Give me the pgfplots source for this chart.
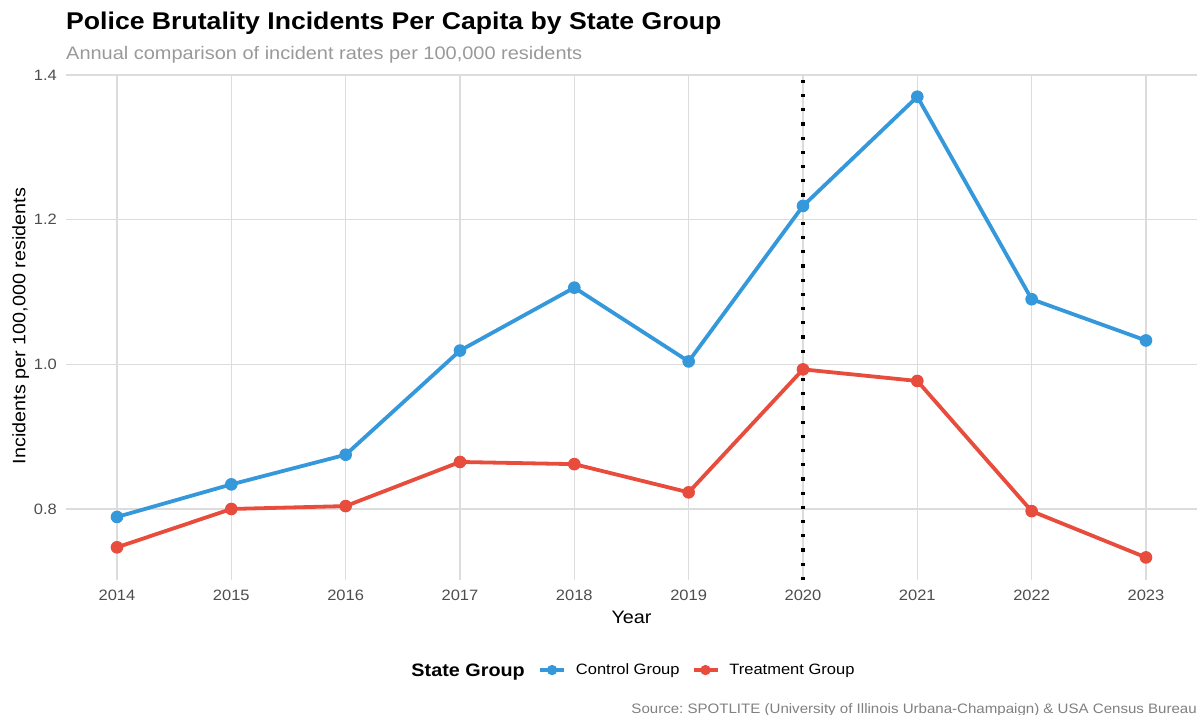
\documentclass[border=0pt]{standalone}
\usepackage{pgfplots}
\pgfplotsset{compat=1.18}
\usepackage{fontspec}
\setmainfont{Liberation Sans}[FakeStretch=1.1]
\frenchspacing
\definecolor{ctrl}{HTML}{3498DB}
\definecolor{trt}{HTML}{E74C3C}
\definecolor{gridc}{HTML}{DCDCDC}
\definecolor{ticklab}{HTML}{4D4D4D}
\definecolor{subt}{HTML}{999999}
\definecolor{capt}{HTML}{808080}

\pgfplotstableread{
year value
2014 0.789
2015 0.834
2016 0.875
2017 1.019
2018 1.106
2019 1.004
2020 1.219
2021 1.370
2022 1.090
2023 1.033
}\control
\pgfplotstableread{
year value
2014 0.747
2015 0.800
2016 0.804
2017 0.865
2018 0.862
2019 0.823
2020 0.993
2021 0.977
2022 0.797
2023 0.733
}\treatment

\begin{document}
\begin{tikzpicture}
\useasboundingbox (0bp,0bp) rectangle (1198bp,-715bp);
\node[anchor=base west, inner sep=0pt, font=\fontsize{24.2bp}{28bp}\selectfont\bfseries] at (66bp,-29.7bp) {Police Brutality Incidents Per Capita by State Group};
\node[anchor=base west, inner sep=0pt, text=subt, font=\fontsize{18.15bp}{22bp}\selectfont] at (66bp,-59.3bp) {Annual comparison of incident rates per 100,000 residents};
\begin{axis}[
  at={(66bp,-580bp)}, anchor=south west,
  scale only axis, width=1131bp, height=506bp,
  xmin=2013.554, xmax=2023.446, ymin=0.7018, ymax=1.4014,
  xtick={2014,2015,2016,2017,2018,2019,2020,2021,2022,2023},
  xticklabels={2014,2015,2016,2017,2018,2019,2020,2021,2022,2023},
  ytick={0.8,1.0,1.2,1.4},
  yticklabels={0.8,1.0,1.2,1.4},
  /pgf/number format/assume math mode=true,
  axis line style={draw=none},
  major tick length=0pt,
  tick style={draw=none},
  grid=major,
  major grid style={draw=gridc, line width=1.6bp},
  xticklabel style={font=\fontsize{15bp}{18bp}\selectfont, text=ticklab, inner sep=0pt, anchor=north, yshift=-9.5bp},
  yticklabel style={font=\fontsize{15bp}{18bp}\selectfont, text=ticklab, inner sep=0pt, anchor=east, xshift=-9bp},
  legend columns=-1,
  legend style={at={(0.41733,-0.178)}, anchor=west, draw=none, fill=none, inner sep=0pt,
    font=\fontsize{15bp}{18bp}\selectfont,
    nodes={inner sep=0pt},
    /tikz/every odd column/.append style={column sep=10bp},
    /tikz/every even column/.append style={column sep=12bp}},
  legend image code/.code={\draw[mark repeat=2,mark phase=2,#1,mark options={scale=0.8, line width=1bp}] plot coordinates {(0bp,0bp)(12bp,0bp)(24bp,0bp)};},
]
\addplot[forget plot, black, line width=3.2bp, line cap=butt, dash pattern=on 3.2bp off 11bp] coordinates {(2020,0.7018) (2020,1.4014)};
\addplot[color=ctrl, line width=3.8bp, mark=*, mark size=5.8bp, mark options={line width=1bp}] table[x=year, y=value] {\control};
\addlegendentry{Control Group}
\addplot[color=trt, line width=3.8bp, mark=*, mark size=5.8bp, mark options={line width=1bp}] table[x=year, y=value] {\treatment};
\addlegendentry{Treatment Group}
\end{axis}
\node[anchor=base, inner sep=0pt, font=\fontsize{18bp}{22bp}\selectfont] at (631.5bp,-623.3bp) {Year};
\node[anchor=base, rotate=90, inner sep=0pt, font=\fontsize{18bp}{22bp}\selectfont] at (25.3bp,-326bp) {Incidents per 100,000 residents};
\node[anchor=base east, inner sep=0pt, font=\fontsize{18bp}{22bp}\selectfont\bfseries] at (525bp,-676bp) {State Group};
\node[anchor=base east, inner sep=0pt, text=capt, font=\fontsize{13.7bp}{16bp}\selectfont] at (1197bp,-713bp) {Source: SPOTLITE (University of Illinois Urbana-Champaign) \& USA Census Bureau};
\end{tikzpicture}
\end{document}
